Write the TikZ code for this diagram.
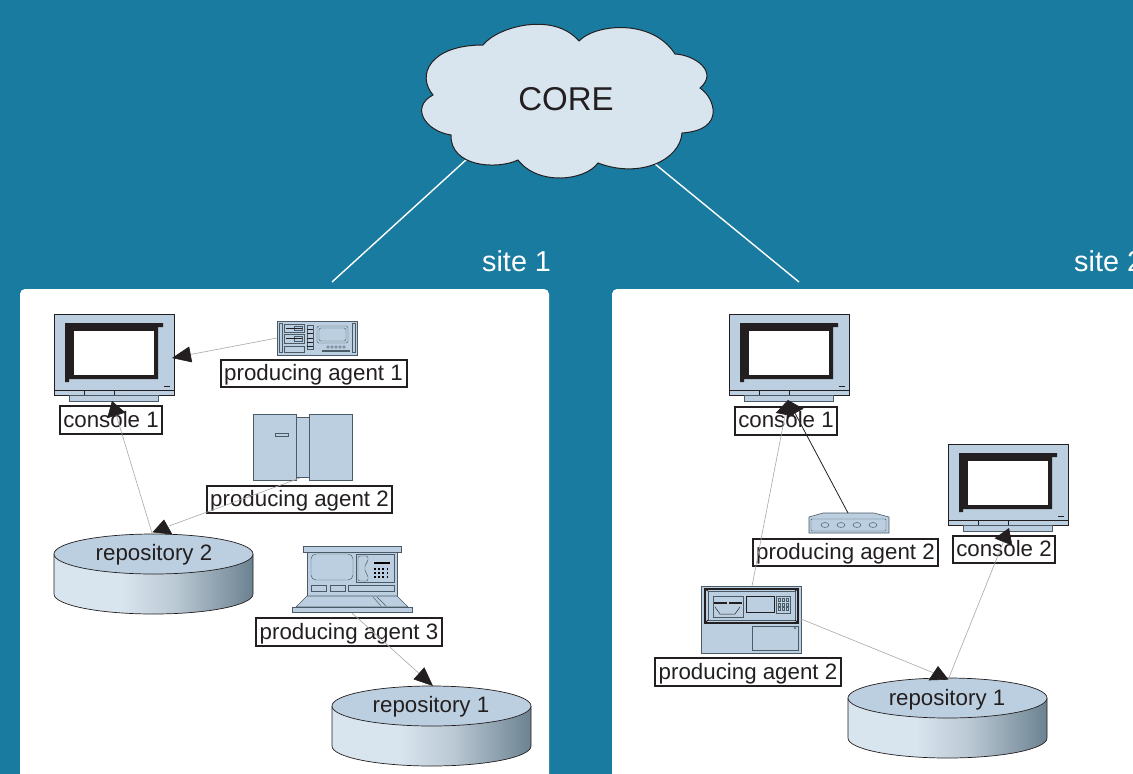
\documentclass[tikz,border=0pt]{standalone}
\usepackage{fontspec}
\setmainfont{Liberation Sans}
\usetikzlibrary{arrows.meta}
\definecolor{bgblue}{HTML}{1A7BA0}
\definecolor{devfill}{HTML}{BCCFE0}
\definecolor{cloudfill}{HTML}{D8E4EE}
\definecolor{ink}{HTML}{231F20}
\definecolor{stroke}{HTML}{4A5A66}
\definecolor{wire}{HTML}{A8A8A8}
\definecolor{cyla}{HTML}{D8E4EE}
\definecolor{cylb}{HTML}{BCCAD5}
\definecolor{cylc}{HTML}{6C8291}
\pgfdeclarehorizontalshading{cylshade}{100bp}{color(0bp)=(cyla);color(25bp)=(cyla);color(42bp)=(cyla);color(55bp)=(cylb);color(75bp)=(cylc);color(100bp)=(cylc)}
\tikzset{
  panel/.style={fill=white,draw=none,rounded corners=5pt},
  labelbox/.style={draw=ink,line width=2pt,fill=white,text=ink,inner sep=0pt,font=\fontsize{22.3}{24}\selectfont,anchor=center,text height=17pt,text depth=3pt},
  devbox/.style={inner sep=0pt,anchor=north west,draw=none},
  dev/.style={draw=stroke,line width=.6pt,fill=devfill},
  fine/.style={draw=stroke,line width=.45pt},
  conn/.style={draw=wire,line width=.6pt},
  tipa/.style={-{Triangle[length=19pt,width=16pt,fill=ink,color=ink]}},
  tipb/.style={-{Triangle[length=14pt,width=20pt,fill=ink,color=ink]}},
  tipc/.style={-{Triangle[length=15pt,width=19pt,fill=ink,color=ink]}},
  uplink/.style={draw=white,line width=1.4pt},
  pics/monitor/.style={code={
    \draw[draw=ink,line width=.8pt,fill=devfill] (0,0) rectangle (120,76);
    \draw[draw=ink,line width=.8pt,fill=devfill] (0,76) rectangle (120,81);
    \draw[draw=ink,line width=.7pt] (30,76)--(30,81) (60,76)--(60,81);
    \draw[draw=stroke,line width=.6pt,fill=devfill] (15,81) rectangle (104,87);
    \fill[ink] (11,9)--(109,9)--(109,13)--(104,13)--(104,65)--(15,65)--(15,68)--(11,68)--cycle;
    \fill[white] (20,17) rectangle (100,61);
    \fill[ink] (110,71.5) rectangle (116,73);
  }},
  pics/cylinder/.style={code={
    \shade[shading=cylshade] (0,0)--(0,40) arc[start angle=180,end angle=0,x radius=99.5,y radius=20]--(199,0)--cycle;
    \draw[draw=ink,line width=.7pt] (0,0)--(0,40) arc[start angle=180,end angle=0,x radius=99.5,y radius=20]--(199,0);
    \draw[draw=ink,line width=.7pt,fill=devfill] (99.5,0) ellipse[x radius=99.5,y radius=20];
  }}
}
\begin{document}
\begin{tikzpicture}[x=1pt,y=-1pt]
\clip (0,0) rectangle (1133,774);
\fill[bgblue] (0,0) rectangle (1133,774);

% named end points of the connectors
\coordinate (coreL) at (467,159);
\coordinate (coreR) at (655,164);
\coordinate (siteA) at (332,282);
\coordinate (siteB) at (799,282);

\draw[uplink] (coreL) -- (siteA);
\draw[uplink] (coreR) -- (siteB);

% cloud
\draw[fill=cloudfill,draw=ink,line width=1pt]
  (483,45) .. controls (497,27) and (553,11) .. (579,41)
  .. controls (595,24) and (652,18) .. (675,54)
  .. controls (695,55) and (719,72) .. (700,88)
  .. controls (714,97) and (727,130) .. (682,133)
  .. controls (680,160) and (640,179) .. (598,163)
  .. controls (585,181) and (538,186) .. (518,160)
  .. controls (497,170) and (450,167) .. (451,135)
  .. controls (425,131) and (410,107) .. (433,95)
  .. controls (416,75) and (430,45) .. (483,45) -- cycle;
\node[text=ink,font=\fontsize{33}{36}\selectfont,inner sep=0pt] (core) at (566,99) {CORE};

% panels
\draw[panel] (20,289) rectangle (549,800);
\draw[panel] (612,289) rectangle (1170,800);
\node[text=white,font=\fontsize{28.8}{30}\selectfont,inner sep=0pt,anchor=west] (site1) at (482,261) {site 1};
\node[text=white,font=\fontsize{28.8}{30}\selectfont,inner sep=0pt,anchor=west] (site2) at (1074,261) {site 2};

% ---- devices, site 1 ----
\pic at (54,314) {monitor};
\node[devbox,minimum width=120pt,minimum height=87pt] (monA) at (54,314) {};
\pic at (54,554) {cylinder};
\pic at (332,706) {cylinder};
\node[text=ink,font=\fontsize{22.3}{24}\selectfont,inner sep=0pt] (repoA2) at (154,554.5) {repository 2};
\node[text=ink,font=\fontsize{22.3}{24}\selectfont,inner sep=0pt] (repoA1) at (431,706.5) {repository 1};

% producing agent 1 device
\draw[dev] (277,321) rectangle (357,355);
\draw[fine] (279,323) rectangle (282,352) (352,323) rectangle (355,352);
\draw[fine] (284,324) rectangle (304,332) (284,334) rectangle (304,343) (284,346) rectangle (304,352);
\draw[fine] (294,326) rectangle (302,330) (294,336) rectangle (302,341);
\draw[draw=ink,line width=.6pt] (286,328)--(302,328) (286,338)--(302,338);
\draw[fine] (307,325) rectangle (313,349);
\draw[draw=ink,line width=.6pt] (307,329)--(313,329) (307,333)--(313,333) (307,338)--(313,338) (307,342)--(313,342) (307,346)--(313,346);
\draw[fine,rounded corners=1.5pt] (317,326) rectangle (348,343);
\draw[fine,rounded corners=1.5pt] (319,328) rectangle (346,341);
\foreach \dx in {328,332,336,340,344} \draw[fine,line width=.35pt] (\dx,347) circle[radius=1.3];
\draw[fine] (322,350) rectangle (349,351.5);

% producing agent 2 device
\draw[dev] (296,417) rectangle (309,477);
\draw[dev] (253,414) rectangle (296,480);
\draw[dev] (309,414) rectangle (352,480);
\draw[dev] (275,433) rectangle (288,436);

% producing agent 3 device (laptop)
\draw[dev] (303,546) rectangle (401,552);
\draw[dev] (307,552) rectangle (397,596);
\draw[fine,rounded corners=5pt] (311,554) rectangle (353,580);
\draw[fine] (356,554) rectangle (394,582);
\draw[fine,rounded corners=2pt] (358,556) -- (368,556) -- (368,562) -- (365,564) -- (365,572) -- (368,575) -- (368,581) -- (358,581) -- cycle;
\foreach \ix in {0,...,3} \foreach \iy in {0,1,2} \fill[stroke] (374+\ix*4.2,568+\iy*4) rectangle +(1.8,1.8);
\fill[stroke] (374,562) rectangle (390,564);
\draw[fine] (311,585) rectangle (326,591) (330,585) rectangle (345,591) (348,585) rectangle (394,591);
\draw[dev] (307,596)--(397,596)--(408,607)--(296,607)--cycle;
\draw[fine] (373,597)--(381,606) (377,597)--(386,606);
\draw[dev] (292,607) rectangle (412,612);

% labels, site 1
\node[labelbox,minimum width=186pt,minimum height=27pt] (pa1) at (313.5,373.5) {producing agent 1};
\node[labelbox,minimum width=102pt,minimum height=28pt] (conA) at (111,420) {console 1};
\node[labelbox,minimum width=185pt,minimum height=27pt] (pa2) at (299.5,499.5) {producing agent 2};
\node[labelbox,minimum width=186pt,minimum height=28pt] (pa3) at (349,632) {producing agent 3};

% ---- devices, site 2 ----
\pic at (729,314) {monitor};
\node[devbox,minimum width=120pt,minimum height=87pt] (monB) at (729,314) {};
\pic at (948,444) {monitor};
\node[devbox,minimum width=120pt,minimum height=87pt] (monC) at (948,444) {};
\pic at (848,698) {cylinder};
\node[text=ink,font=\fontsize{22.3}{24}\selectfont,inner sep=0pt] (repoB1) at (947,699.5) {repository 1};

% router
\draw[dev] (809,517)--(823,513)--(874,513)--(889,517)--(889,533)--(809,533)--cycle;
\draw[fine,rounded corners=1pt] (811,519) rectangle (886,531);
\foreach \dx in {825,841,857,873} \draw[fine] (\dx,525) ellipse[x radius=4,y radius=2.5];

% wall panel
\draw[dev] (701,586) rectangle (801,653);
\draw[draw=ink,line width=1.3pt] (705,589) rectangle (798,623);
\draw[fine] (708,591) rectangle (795,620);
\draw[draw=ink,line width=.9pt] (705,589)--(708,591) (798,589)--(795,591) (705,623)--(708,620) (798,623)--(795,620);
\draw[fine] (713,596) rectangle (743,617);
\draw[draw=ink,line width=.6pt] (714,602) rectangle (726,603.5) (729,602) rectangle (741,603.5);
\draw[draw=ink,line width=.5pt] (715,607)--(720,614)--(735,614)--(740,607);
\draw[draw=ink,line width=.7pt] (746,596) rectangle (774,612);
\draw[fine] (776,596) rectangle (790,613);
\foreach \ix in {0,1,2} \foreach \iy in {0,1,2} \draw[fine,line width=.3pt] (778+\ix*4,598+\iy*4.8) rectangle +(2.6,3);
\draw[fine] (752,626) rectangle (798,650);
\draw[fine,line width=.3pt] (795,628) circle[radius=1.1];

% labels, site 2
\node[labelbox,minimum width=102pt,minimum height=28pt] (conB) at (786,420.5) {console 1};
\node[labelbox,minimum width=185pt,minimum height=27pt] (pb2) at (845.5,552.5) {producing agent 2};
\node[labelbox,minimum width=186pt,minimum height=28pt] (pb3) at (748,672) {producing agent 2};
\node[labelbox,minimum width=102pt,minimum height=27pt] (conC) at (1004,549.5) {console 2};

% ---- connector ports ----
\coordinate (p1out) at (277,338);
\coordinate (monAr) at (172,358);
\coordinate (repoAt) at (152,533);
\coordinate (monAb) at (112,401);
\coordinate (p2out) at (300,478);
\coordinate (p2end) at (169,526);
\coordinate (headAb) at (162.5,533);
\coordinate (headAa) at (164,519.5);
\coordinate (p3out) at (352,613);
\coordinate (repoA1t) at (433,686);
\coordinate (panelTop) at (752,586);
\coordinate (monBb) at (788,400);
\coordinate (routerTop) at (848,513);
\coordinate (panelR) at (801,619);
\coordinate (panelEnd) at (934,673);
\coordinate (headBb) at (938.5,680);
\coordinate (headBa) at (938,666);
\coordinate (repoBt) at (948,680);
\coordinate (monCb) at (1009,528);

% ---- connectors ----
\draw[conn,tipa] (p1out) -- (monAr);
\draw[conn,tipc] (repoAt) -- (monAb);
\draw[conn,tipb] (p2out) -- (p2end) (headAb) -- (headAa);
\draw[conn,tipa] (p3out) -- (repoA1t);
\draw[conn,tipc] (panelTop) -- (monBb);
\draw[draw=ink,line width=.8pt,tipc] (routerTop) -- (monBb);
\draw[conn,tipb] (panelR) -- (panelEnd) (headBb) -- (headBa);
\draw[conn,tipc] (repoBt) -- (monCb);
\end{tikzpicture}
\end{document}
